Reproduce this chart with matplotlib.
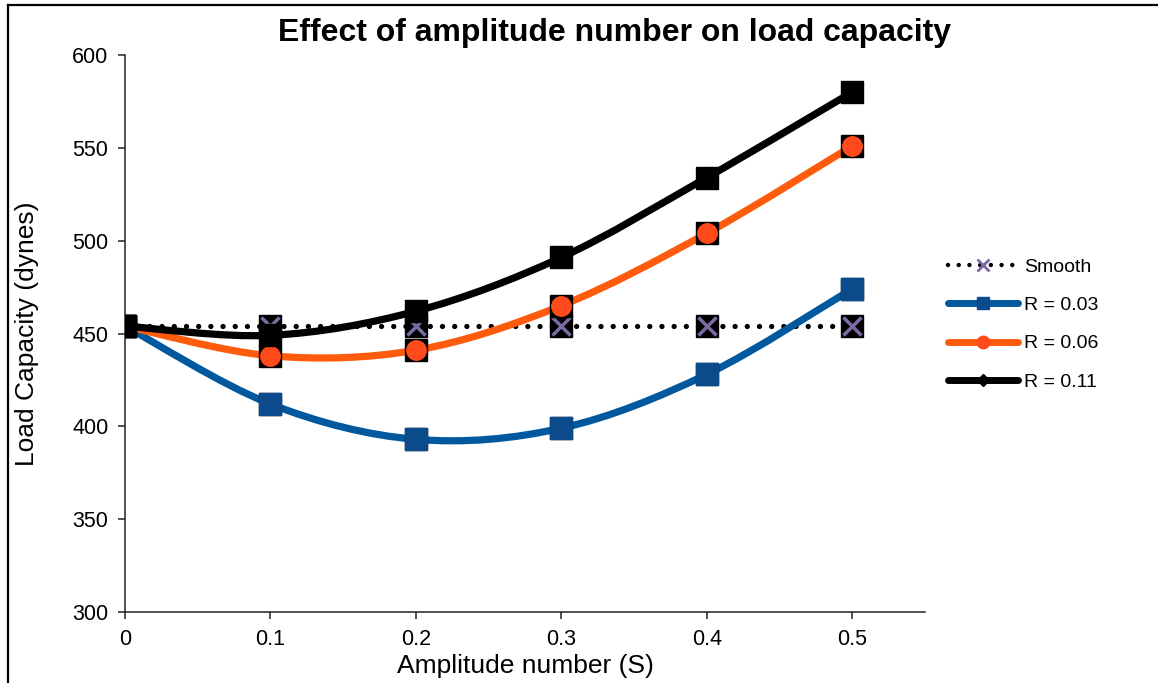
import matplotlib
matplotlib.use("Agg")
import matplotlib.pyplot as plt
from matplotlib.path import Path
from matplotlib.patches import PathPatch
from matplotlib.lines import Line2D
import numpy as np

plt.rcParams['font.family'] = ['Liberation Sans', 'DejaVu Sans']

# ---- data ----
amplitude = [0.0, 0.1, 0.2, 0.3, 0.4, 0.5]
smooth = [454, 454, 454, 454, 454, 454]
r_003 = [454, 412, 393, 399, 428, 474]
r_006 = [454, 438, 441, 465, 504, 551]
r_011 = [454, 449, 462, 491, 534, 580]
series_labels = ["Smooth", "R = 0.03", "R = 0.06", "R = 0.11"]
y_ticks = [300, 350, 400, 450, 500, 550, 600]
x_ticks = [0, 0.1, 0.2, 0.3, 0.4, 0.5]
x_tick_labels = ["0", "0.1", "0.2", "0.3", "0.4", "0.5"]

BLUE_LINE = '#00599F'
BLUE_MARK = '#0B4A8B'
ORANGE_LINE = '#FF5B0D'
ORANGE_MARK = '#FF4A1C'
PURPLE = '#7C6AA5'

fig = plt.figure(figsize=(11.58, 6.83), dpi=100)
ax = fig.add_axes([125/1158, 1-612/683, 800/1158, 557/683])


def smooth_path(xs, ys):
    pts = np.column_stack([xs, ys]).astype(float)
    n = len(pts)
    verts = [pts[0]]
    codes = [Path.MOVETO]
    for i in range(n - 1):
        p0 = pts[max(i - 1, 0)]
        p1 = pts[i]
        p2 = pts[i + 1]
        p3 = pts[min(i + 2, n - 1)]
        c1 = p1 + (p2 - p0) / 6.0
        c2 = p2 - (p3 - p1) / 6.0
        verts += [c1, c2, p2]
        codes += [Path.CURVE4] * 3
    return Path(verts, codes)


msize = 15.5
# Smooth (dotted)
ax.plot(amplitude, smooth, color='black', lw=3.8, ls=(0, (0.01, 2.3)),
        dash_capstyle='round', zorder=2)
ax.plot(amplitude, smooth, ls='none', marker='s', ms=msize, mfc='black',
        mec='black', zorder=3)
ax.plot(amplitude, smooth, ls='none', marker='x', ms=13, mec=PURPLE,
        mew=2.5, zorder=3.1)

# curves
for vals, lc, mc, mk, z in [(r_003, BLUE_LINE, BLUE_MARK, 's', 4),
                             (r_006, ORANGE_LINE, ORANGE_MARK, 'o', 6),
                             (r_011, 'black', 'black', 's', 8)]:
    patch = PathPatch(smooth_path(amplitude, vals), fill=False, edgecolor=lc,
                      lw=5.2, capstyle='round', joinstyle='round', zorder=z)
    ax.add_patch(patch)
    ax.plot(amplitude, vals, ls='none', marker='s', ms=msize, mfc='black',
            mec='black', zorder=z + 0.5)
    if mk == 'o':
        ax.plot(amplitude, vals, ls='none', marker='o', ms=14, mfc=mc,
                mec=mc, zorder=z + 0.6)
    elif mc != 'black':
        ax.plot(amplitude, vals, ls='none', marker='s', ms=msize, mfc=mc,
                mec=mc, zorder=z + 0.6)

ax.set_xlim(0, 0.55)
ax.set_ylim(300, 600)
ax.set_xticks(x_ticks)
ax.set_xticklabels(x_tick_labels)
ax.set_yticks(y_ticks)
for s in ['top', 'right']:
    ax.spines[s].set_visible(False)
for s in ['left', 'bottom']:
    ax.spines[s].set_linewidth(1.1)
    ax.spines[s].set_color('#222222')
ax.tick_params(axis='both', direction='out', length=5, width=1.1,
               color='#222222', labelsize=15.5, pad=7)

ax.set_xlabel("Amplitude number (S)", fontsize=19)
ax.set_ylabel("Load Capacity (dynes)", fontsize=19)
ax.xaxis.set_label_coords(0.5, -(666 - 612) / 557, transform=None) if False else None
ax.xaxis.set_label_coords(0.5, -(666 - 612) / 557)
ax.yaxis.set_label_coords((27 - 125) / 800, 0.5)
ax.xaxis.label.set_va('center')
ax.yaxis.label.set_va('center')

fig.text(615/1158, 1-33/683, "Effect of amplitude number on load capacity",
         fontsize=23, fontweight='bold', ha='center', va='center')

# legend
handles = [
    Line2D([], [], color='black', lw=3.2, ls=(0, (0.01, 2.4)),
           dash_capstyle='round', marker='x', mec=PURPLE, ms=8, mew=2),
    Line2D([], [], color=BLUE_LINE, lw=5, solid_capstyle='round',
           marker='s', mfc=BLUE_MARK, mec=BLUE_MARK, ms=8),
    Line2D([], [], color=ORANGE_LINE, lw=5, solid_capstyle='round',
           marker='o', mfc=ORANGE_MARK, mec=ORANGE_MARK, ms=9),
    Line2D([], [], color='black', lw=5, solid_capstyle='round',
           marker='D', mfc='black', mec='black', ms=6),
]
fig.legend(handles, series_labels, loc='upper left',
           bbox_to_anchor=(948/1158, 1-258/683), frameon=False,
           fontsize=14, handlelength=3.6, handletextpad=0.3,
           labelspacing=1.07, borderpad=0, borderaxespad=0)

# figure border (left and top)
fig.add_artist(Line2D([8/1158, 8/1158], [0, 1-5/683], transform=fig.transFigure,
                      color='black', lw=1.6))
fig.add_artist(Line2D([8/1158, 1], [1-5/683, 1-5/683], transform=fig.transFigure,
                      color='black', lw=1.6))

fig.savefig("out.png", dpi=100)
